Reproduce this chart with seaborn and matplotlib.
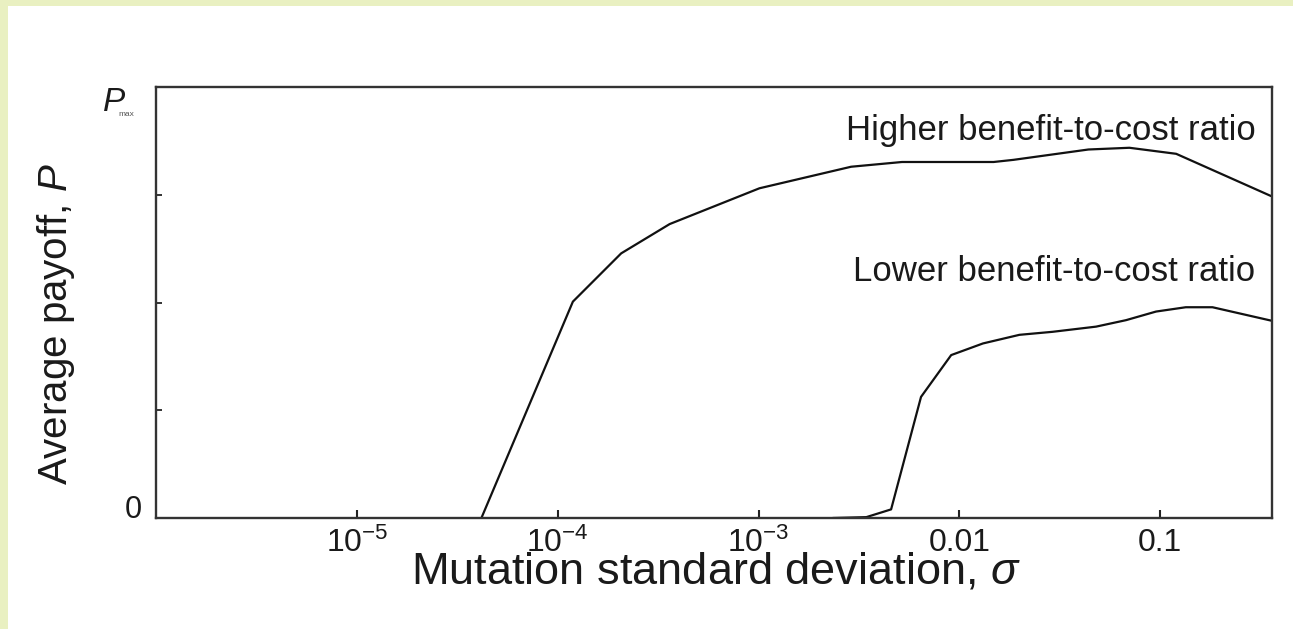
import numpy as np
import pandas as pd
import matplotlib
matplotlib.use("Agg")
import matplotlib.pyplot as plt
from matplotlib.patches import Rectangle
from matplotlib.ticker import NullLocator
import seaborn as sns

# ---- data ----
sigma_high = [4.17e-5, 1.19e-4, 2.07e-4, 3.61e-4, 1.01e-3, 2.89e-3, 5.18e-3,
              1.48e-2, 1.86e-2, 4.39e-2, 7.02e-2, 0.120, 0.356]
payoff_high = [0.0, 0.502, 0.614, 0.682, 0.765, 0.815, 0.826,
               0.826, 0.831, 0.855, 0.859, 0.845, 0.747]

sigma_low = [2.34e-3, 3.44e-3, 4.57e-3, 6.44e-3, 9.10e-3, 1.31e-2, 1.99e-2,
             2.91e-2, 4.79e-2, 6.75e-2, 9.53e-2, 0.134, 0.182, 0.356]
payoff_low = [0.0, 0.002, 0.020, 0.281, 0.378, 0.405, 0.425,
              0.432, 0.444, 0.459, 0.479, 0.489, 0.489, 0.458]

series_names = ["Higher benefit-to-cost ratio", "Lower benefit-to-cost ratio"]
xtick_values = [1e-5, 1e-4, 1e-3, 1e-2, 1e-1]
xtick_labels = ["$10^{-5}$", "$10^{-4}$", "$10^{-3}$", "0.01", "0.1"]
ytick_values = [0.0, 0.25, 0.5, 0.75, 1.0]
ytick_labels = ["0", "", "", "", ""]

df = pd.concat([
    pd.DataFrame({"sigma": sigma_high, "payoff": payoff_high, "series": series_names[0]}),
    pd.DataFrame({"sigma": sigma_low, "payoff": payoff_low, "series": series_names[1]}),
], ignore_index=True)

# ---- style ----
sns.set_theme(style="white", rc={"xtick.bottom": True, "ytick.left": True,
                                 "xtick.direction": "in", "ytick.direction": "in"})
plt.rcParams["font.family"] = ["Liberation Sans", "DejaVu Sans"]
plt.rcParams["mathtext.fontset"] = "custom"
plt.rcParams["mathtext.rm"] = "Liberation Sans"
plt.rcParams["mathtext.it"] = "Liberation Sans:italic"
plt.rcParams["mathtext.bf"] = "Liberation Sans:bold"
plt.rcParams["axes.unicode_minus"] = False

W, H = 1293, 629
fig = plt.figure(figsize=(W / 100, H / 100), dpi=100, facecolor="white")
# light yellow-green frame strips (top and left)
fig.patches.append(Rectangle((0, 1 - 6 / H), 1, 6 / H, transform=fig.transFigure,
                             facecolor="#e9f0c1", edgecolor="none", zorder=-10))
fig.patches.append(Rectangle((0, 0), 8 / W, 1, transform=fig.transFigure,
                             facecolor="#e9f0c1", edgecolor="none", zorder=-10))

left, right, top, bottom = 156, 1272, 87, 518
ax = fig.add_axes([left / W, 1 - bottom / H, (right - left) / W, (bottom - top) / H])
ax.set_facecolor("white")

sns.lineplot(data=df, x="sigma", y="payoff", hue="series",
             palette={series_names[0]: "#111111", series_names[1]: "#111111"},
             estimator=None, sort=False, legend=False, linewidth=1.6, ax=ax)

ax.set_xscale("log")
ax.set_xlim(1e-6, 0.36)
ax.set_ylim(0, 1)
ax.set_xticks(xtick_values)
ax.set_xticklabels(xtick_labels)
ax.xaxis.set_minor_locator(NullLocator())
ax.set_yticks(ytick_values)
ax.set_yticklabels(ytick_labels)

for s in ax.spines.values():
    s.set_color("#333333")
    s.set_linewidth(1.7)

ax.tick_params(axis="x", which="major", bottom=True, top=False, direction="in",
               length=6, width=1.5, color="#222222",
               labelsize=23, pad=7, labelcolor="#1a1a1a")
ax.tick_params(axis="y", which="major", left=True, right=False, direction="in",
               length=4.5, width=1.4, color="#333333",
               labelsize=22, pad=10, labelcolor="#1a1a1a")
for t in ax.xaxis.get_major_ticks():
    t.tick1line.set_visible(True)
for lab in ax.get_yticklabels():
    lab.set_va("baseline")

# P_max label
ax.annotate("P", xy=(0, 1), xycoords="axes fraction", xytext=(-53, 0),
            textcoords="offset pixels", ha="left", va="top", fontsize=24,
            style="italic", color="#1a1a1a")
ax.annotate("max", xy=(0, 1), xycoords="axes fraction", xytext=(-38, -31),
            textcoords="offset pixels", ha="left", va="bottom", fontsize=6,
            color="#555555")

ax.set_xlabel("Mutation standard deviation, $\\sigma$", fontsize=32.5, color="#1a1a1a")
ax.xaxis.set_label_coords(0.502, -0.126)
ax.xaxis.label.set_va("center")
ax.set_ylabel("Average payoff, $P$", fontsize=29, color="#1a1a1a")
ax.yaxis.set_label_coords(-0.09, 0.45)
ax.yaxis.label.set_va("center")

ax.text(0.985, 0.900, series_names[0], transform=ax.transAxes, ha="right",
        va="center", fontsize=25, color="#1a1a1a")
ax.text(0.985, 0.571, series_names[1], transform=ax.transAxes, ha="right",
        va="center", fontsize=25, color="#1a1a1a")

fig.savefig("out.png", dpi=100, facecolor=fig.get_facecolor())
